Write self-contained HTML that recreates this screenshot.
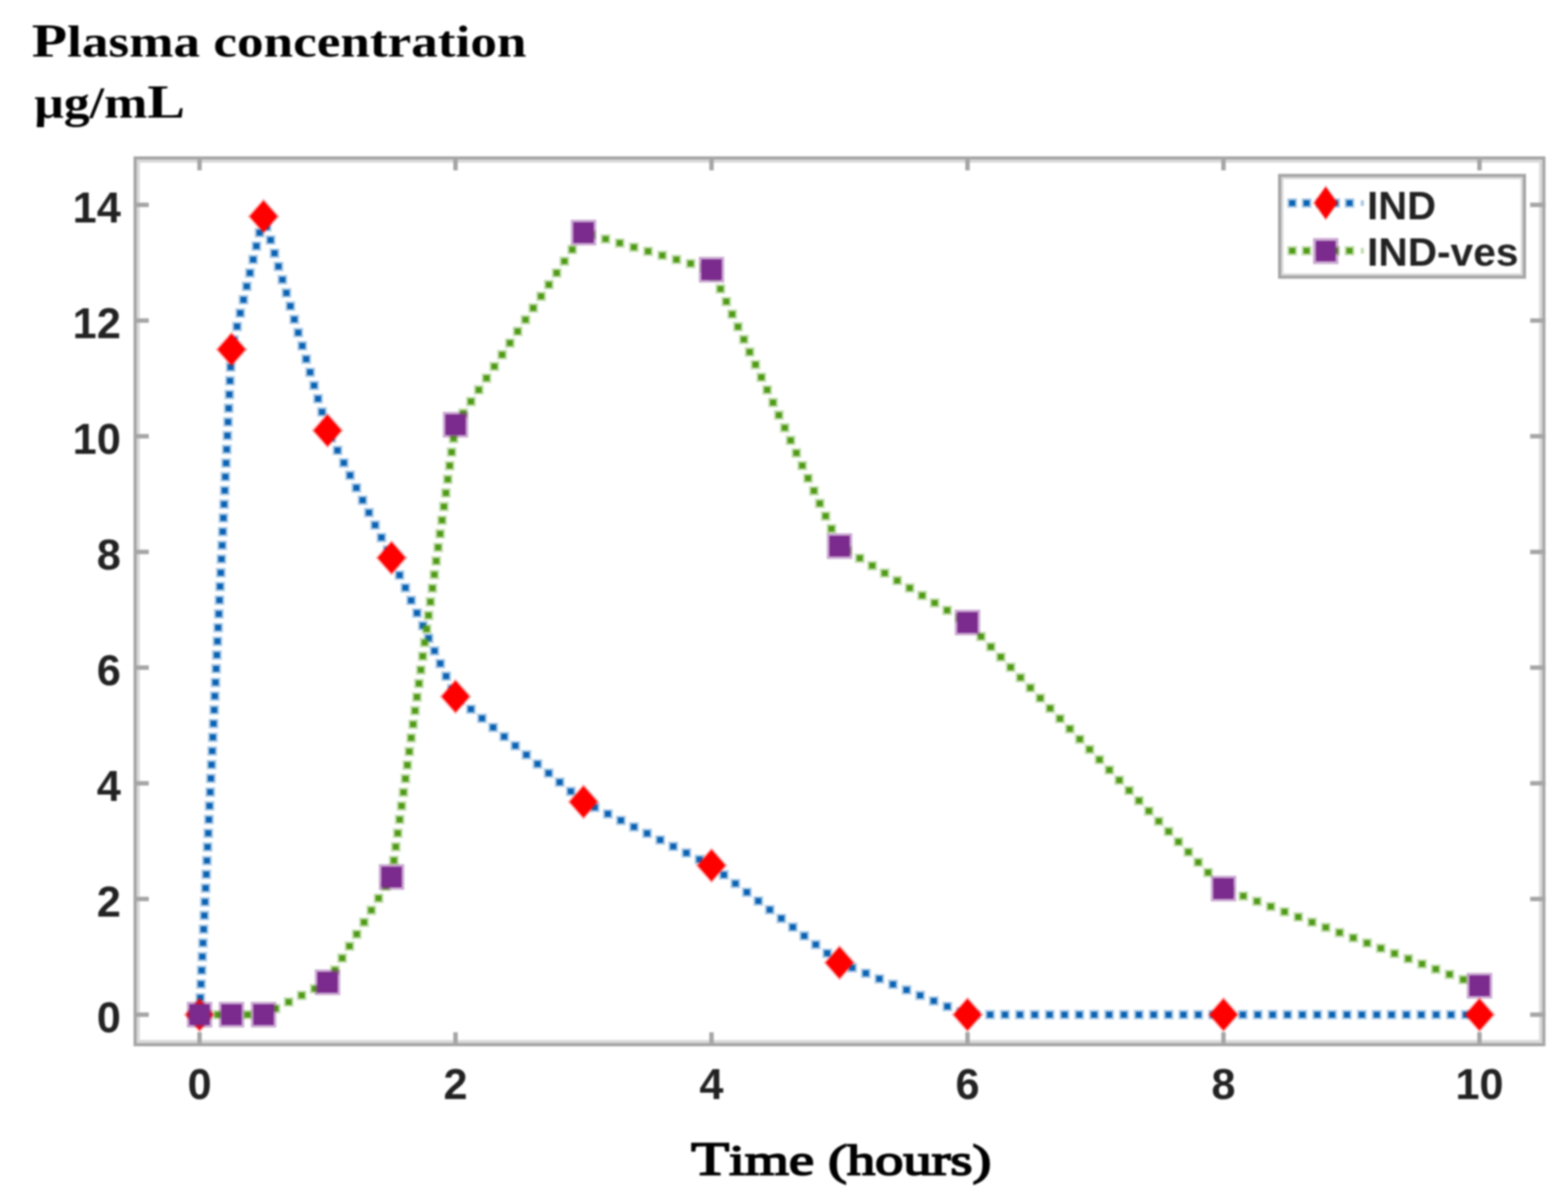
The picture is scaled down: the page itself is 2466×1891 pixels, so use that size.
<!DOCTYPE html>
<html><head><meta charset="utf-8"><title>Plasma concentration chart</title>
<style>html,body{margin:0;padding:0;background:#fff;width:2466px;height:1891px;overflow:hidden}svg{display:block;filter:blur(1.6px)}</style>
</head><body>
<svg width="2466" height="1891" viewBox="0 0 2466 1891">
<rect width="2466" height="1891" fill="#fff"/>
<rect x="217.5" y="253.5" width="2205.5" height="1385" fill="none" stroke="#dadada" stroke-width="5"/>
<rect x="212.5" y="248.5" width="2215.5" height="1395" fill="none" stroke="#a5a5a5" stroke-width="5"/>
<g stroke="#a5a5a5" stroke-width="7">
<line x1="313.8" y1="246" x2="313.8" y2="268"/>
<line x1="313.8" y1="1646" x2="313.8" y2="1624"/>
<line x1="716.4" y1="246" x2="716.4" y2="268"/>
<line x1="716.4" y1="1646" x2="716.4" y2="1624"/>
<line x1="1119.0" y1="246" x2="1119.0" y2="268"/>
<line x1="1119.0" y1="1646" x2="1119.0" y2="1624"/>
<line x1="1521.6" y1="246" x2="1521.6" y2="268"/>
<line x1="1521.6" y1="1646" x2="1521.6" y2="1624"/>
<line x1="1924.2" y1="246" x2="1924.2" y2="268"/>
<line x1="1924.2" y1="1646" x2="1924.2" y2="1624"/>
<line x1="2326.8" y1="246" x2="2326.8" y2="268"/>
<line x1="2326.8" y1="1646" x2="2326.8" y2="1624"/>
<line x1="210" y1="1596.3" x2="234" y2="1596.3"/>
<line x1="2430.5" y1="1596.3" x2="2406.5" y2="1596.3"/>
<line x1="210" y1="1414.3" x2="234" y2="1414.3"/>
<line x1="2430.5" y1="1414.3" x2="2406.5" y2="1414.3"/>
<line x1="210" y1="1232.3" x2="234" y2="1232.3"/>
<line x1="2430.5" y1="1232.3" x2="2406.5" y2="1232.3"/>
<line x1="210" y1="1050.3" x2="234" y2="1050.3"/>
<line x1="2430.5" y1="1050.3" x2="2406.5" y2="1050.3"/>
<line x1="210" y1="868.3" x2="234" y2="868.3"/>
<line x1="2430.5" y1="868.3" x2="2406.5" y2="868.3"/>
<line x1="210" y1="686.3" x2="234" y2="686.3"/>
<line x1="2430.5" y1="686.3" x2="2406.5" y2="686.3"/>
<line x1="210" y1="504.3" x2="234" y2="504.3"/>
<line x1="2430.5" y1="504.3" x2="2406.5" y2="504.3"/>
<line x1="210" y1="322.3" x2="234" y2="322.3"/>
<line x1="2430.5" y1="322.3" x2="2406.5" y2="322.3"/>
</g>
<g style="font-family:'Liberation Sans',Arial,Helvetica,sans-serif;font-weight:bold;font-size:68px" fill="#222222">
<text x="313.8" y="1729" text-anchor="middle">0</text>
<text x="716.4" y="1729" text-anchor="middle">2</text>
<text x="1119.0" y="1729" text-anchor="middle">4</text>
<text x="1521.6" y="1729" text-anchor="middle">6</text>
<text x="1924.2" y="1729" text-anchor="middle">8</text>
<text x="2326.8" y="1729" text-anchor="middle">10</text>
<text x="190" y="1623.8" text-anchor="end">0</text>
<text x="190" y="1441.8" text-anchor="end">2</text>
<text x="190" y="1259.8" text-anchor="end">4</text>
<text x="190" y="1077.8" text-anchor="end">6</text>
<text x="190" y="895.8" text-anchor="end">8</text>
<text x="190" y="713.8" text-anchor="end">10</text>
<text x="190" y="531.8" text-anchor="end">12</text>
<text x="190" y="349.8" text-anchor="end">14</text>
</g>
<text x="1087" y="1848" style="font-family:'Liberation Serif','Times New Roman',serif;font-weight:normal;font-size:75px" fill="#000" stroke="#000" stroke-width="2.6" textLength="472" lengthAdjust="spacingAndGlyphs">T<tspan style="font-size:68px">ime (hours)</tspan></text>
<text x="50" y="89" style="font-family:'Liberation Serif','Times New Roman',serif;font-weight:bold;font-size:75px" fill="#000" textLength="778" lengthAdjust="spacingAndGlyphs">P<tspan style="font-size:69px">lasma concentration</tspan></text>
<text x="54" y="185" style="font-family:'Liberation Serif','Times New Roman',serif;font-weight:bold;font-size:69px" fill="#000" textLength="237" lengthAdjust="spacingAndGlyphs">μg/m<tspan style="font-size:75px">L</tspan></text>
<path d="M306.3 1583.8h15.5v15.0h-15.5zM307.3 1562.2h15.5v15.0h-15.5zM308.4 1540.7h15.5v15.0h-15.5zM309.4 1519.1h15.5v15.0h-15.5zM310.4 1497.5h15.5v15.0h-15.5zM311.5 1476.0h15.5v15.0h-15.5zM312.5 1454.4h15.5v15.0h-15.5zM313.6 1432.8h15.5v15.0h-15.5zM314.6 1411.3h15.5v15.0h-15.5zM315.6 1389.7h15.5v15.0h-15.5zM316.7 1368.1h15.5v15.0h-15.5zM317.7 1346.5h15.5v15.0h-15.5zM318.7 1325.0h15.5v15.0h-15.5zM319.8 1303.4h15.5v15.0h-15.5zM320.8 1281.8h15.5v15.0h-15.5zM321.8 1260.3h15.5v15.0h-15.5zM322.9 1238.7h15.5v15.0h-15.5zM323.9 1217.1h15.5v15.0h-15.5zM325.0 1195.6h15.5v15.0h-15.5zM326.0 1174.0h15.5v15.0h-15.5zM327.0 1152.4h15.5v15.0h-15.5zM328.1 1130.9h15.5v15.0h-15.5zM329.1 1109.3h15.5v15.0h-15.5zM330.1 1087.7h15.5v15.0h-15.5zM331.2 1066.2h15.5v15.0h-15.5zM332.2 1044.6h15.5v15.0h-15.5zM333.3 1023.0h15.5v15.0h-15.5zM334.3 1001.4h15.5v15.0h-15.5zM335.3 979.9h15.5v15.0h-15.5zM336.4 958.3h15.5v15.0h-15.5zM337.4 936.7h15.5v15.0h-15.5zM338.4 915.2h15.5v15.0h-15.5zM339.5 893.6h15.5v15.0h-15.5zM340.5 872.0h15.5v15.0h-15.5zM341.6 850.5h15.5v15.0h-15.5zM342.6 828.9h15.5v15.0h-15.5zM343.6 807.3h15.5v15.0h-15.5zM344.7 785.8h15.5v15.0h-15.5zM345.7 764.2h15.5v15.0h-15.5zM346.7 742.6h15.5v15.0h-15.5zM347.8 721.1h15.5v15.0h-15.5zM348.8 699.5h15.5v15.0h-15.5zM349.9 677.9h15.5v15.0h-15.5zM350.9 656.3h15.5v15.0h-15.5zM351.9 634.8h15.5v15.0h-15.5zM353.0 613.2h15.5v15.0h-15.5zM354.0 591.6h15.5v15.0h-15.5zM355.0 570.1h15.5v15.0h-15.5zM356.1 548.5h15.5v15.0h-15.5zM360.0 527.3h15.5v15.0h-15.5zM365.1 506.2h15.5v15.0h-15.5zM370.1 485.1h15.5v15.0h-15.5zM375.2 464.1h15.5v15.0h-15.5zM380.3 443.0h15.5v15.0h-15.5zM385.3 421.9h15.5v15.0h-15.5zM390.4 400.8h15.5v15.0h-15.5zM395.5 379.7h15.5v15.0h-15.5zM400.5 358.7h15.5v15.0h-15.5zM405.6 337.6h15.5v15.0h-15.5zM411.6 349.3h15.5v15.0h-15.5zM417.8 370.1h15.5v15.0h-15.5zM424.0 390.9h15.5v15.0h-15.5zM430.2 411.7h15.5v15.0h-15.5zM436.4 432.5h15.5v15.0h-15.5zM442.7 453.3h15.5v15.0h-15.5zM448.9 474.1h15.5v15.0h-15.5zM455.1 495.0h15.5v15.0h-15.5zM461.3 515.8h15.5v15.0h-15.5zM467.6 536.6h15.5v15.0h-15.5zM473.8 557.4h15.5v15.0h-15.5zM480.0 578.2h15.5v15.0h-15.5zM486.2 599.0h15.5v15.0h-15.5zM492.4 619.8h15.5v15.0h-15.5zM498.7 640.6h15.5v15.0h-15.5zM504.9 661.5h15.5v15.0h-15.5zM513.3 681.5h15.5v15.0h-15.5zM523.1 701.1h15.5v15.0h-15.5zM533.0 720.7h15.5v15.0h-15.5zM542.8 740.3h15.5v15.0h-15.5zM552.7 759.9h15.5v15.0h-15.5zM562.5 779.4h15.5v15.0h-15.5zM572.4 799.0h15.5v15.0h-15.5zM582.2 818.6h15.5v15.0h-15.5zM592.1 838.2h15.5v15.0h-15.5zM601.9 857.8h15.5v15.0h-15.5zM611.5 877.5h15.5v15.0h-15.5zM620.6 897.3h15.5v15.0h-15.5zM629.8 917.2h15.5v15.0h-15.5zM638.9 937.1h15.5v15.0h-15.5zM648.1 956.9h15.5v15.0h-15.5zM657.3 976.8h15.5v15.0h-15.5zM666.4 996.7h15.5v15.0h-15.5zM675.6 1016.5h15.5v15.0h-15.5zM684.7 1036.4h15.5v15.0h-15.5zM693.9 1056.3h15.5v15.0h-15.5zM703.0 1076.1h15.5v15.0h-15.5zM715.4 1093.9h15.5v15.0h-15.5zM732.9 1108.2h15.5v15.0h-15.5zM750.3 1122.6h15.5v15.0h-15.5zM767.8 1136.9h15.5v15.0h-15.5zM785.2 1151.3h15.5v15.0h-15.5zM802.7 1165.7h15.5v15.0h-15.5zM820.1 1180.0h15.5v15.0h-15.5zM837.6 1194.4h15.5v15.0h-15.5zM855.1 1208.8h15.5v15.0h-15.5zM872.5 1223.1h15.5v15.0h-15.5zM890.0 1237.5h15.5v15.0h-15.5zM907.4 1251.8h15.5v15.0h-15.5zM927.6 1262.7h15.5v15.0h-15.5zM948.2 1272.9h15.5v15.0h-15.5zM968.7 1283.2h15.5v15.0h-15.5zM989.3 1293.4h15.5v15.0h-15.5zM1009.9 1303.6h15.5v15.0h-15.5zM1030.5 1313.9h15.5v15.0h-15.5zM1051.1 1324.1h15.5v15.0h-15.5zM1071.7 1334.3h15.5v15.0h-15.5zM1092.3 1344.6h15.5v15.0h-15.5zM1112.6 1355.1h15.5v15.0h-15.5zM1130.7 1368.8h15.5v15.0h-15.5zM1148.8 1382.5h15.5v15.0h-15.5zM1166.8 1396.2h15.5v15.0h-15.5zM1184.9 1409.9h15.5v15.0h-15.5zM1202.9 1423.7h15.5v15.0h-15.5zM1221.0 1437.4h15.5v15.0h-15.5zM1239.1 1451.1h15.5v15.0h-15.5zM1257.1 1464.8h15.5v15.0h-15.5zM1275.2 1478.5h15.5v15.0h-15.5zM1293.2 1492.2h15.5v15.0h-15.5zM1311.3 1505.9h15.5v15.0h-15.5zM1332.5 1515.0h15.5v15.0h-15.5zM1353.9 1523.7h15.5v15.0h-15.5zM1375.2 1532.4h15.5v15.0h-15.5zM1396.6 1541.1h15.5v15.0h-15.5zM1418.0 1549.8h15.5v15.0h-15.5zM1439.4 1558.5h15.5v15.0h-15.5zM1460.8 1567.2h15.5v15.0h-15.5zM1482.2 1575.9h15.5v15.0h-15.5zM1503.6 1584.6h15.5v15.0h-15.5zM1526.1 1588.8h15.5v15.0h-15.5zM1549.4 1588.8h15.5v15.0h-15.5zM1572.8 1588.8h15.5v15.0h-15.5zM1596.2 1588.8h15.5v15.0h-15.5zM1619.6 1588.8h15.5v15.0h-15.5zM1643.0 1588.8h15.5v15.0h-15.5zM1666.4 1588.8h15.5v15.0h-15.5zM1689.7 1588.8h15.5v15.0h-15.5zM1713.1 1588.8h15.5v15.0h-15.5zM1736.5 1588.8h15.5v15.0h-15.5zM1759.9 1588.8h15.5v15.0h-15.5zM1783.3 1588.8h15.5v15.0h-15.5zM1806.6 1588.8h15.5v15.0h-15.5zM1830.0 1588.8h15.5v15.0h-15.5zM1853.4 1588.8h15.5v15.0h-15.5zM1876.8 1588.8h15.5v15.0h-15.5zM1900.2 1588.8h15.5v15.0h-15.5zM1923.6 1588.8h15.5v15.0h-15.5zM1946.9 1588.8h15.5v15.0h-15.5zM1970.3 1588.8h15.5v15.0h-15.5zM1993.7 1588.8h15.5v15.0h-15.5zM2017.1 1588.8h15.5v15.0h-15.5zM2040.5 1588.8h15.5v15.0h-15.5zM2063.9 1588.8h15.5v15.0h-15.5zM2087.2 1588.8h15.5v15.0h-15.5zM2110.6 1588.8h15.5v15.0h-15.5zM2134.0 1588.8h15.5v15.0h-15.5zM2157.4 1588.8h15.5v15.0h-15.5zM2180.8 1588.8h15.5v15.0h-15.5zM2204.1 1588.8h15.5v15.0h-15.5zM2227.5 1588.8h15.5v15.0h-15.5zM2250.9 1588.8h15.5v15.0h-15.5zM2274.3 1588.8h15.5v15.0h-15.5zM2297.7 1588.8h15.5v15.0h-15.5z" fill="#0a62b3" opacity="0.33"/><path d="M309.3 1586.7h9.5v9.2h-9.5zM310.3 1565.1h9.5v9.2h-9.5zM311.4 1543.6h9.5v9.2h-9.5zM312.4 1522.0h9.5v9.2h-9.5zM313.4 1500.4h9.5v9.2h-9.5zM314.5 1478.9h9.5v9.2h-9.5zM315.5 1457.3h9.5v9.2h-9.5zM316.6 1435.7h9.5v9.2h-9.5zM317.6 1414.2h9.5v9.2h-9.5zM318.6 1392.6h9.5v9.2h-9.5zM319.7 1371.0h9.5v9.2h-9.5zM320.7 1349.4h9.5v9.2h-9.5zM321.7 1327.9h9.5v9.2h-9.5zM322.8 1306.3h9.5v9.2h-9.5zM323.8 1284.7h9.5v9.2h-9.5zM324.8 1263.2h9.5v9.2h-9.5zM325.9 1241.6h9.5v9.2h-9.5zM326.9 1220.0h9.5v9.2h-9.5zM328.0 1198.5h9.5v9.2h-9.5zM329.0 1176.9h9.5v9.2h-9.5zM330.0 1155.3h9.5v9.2h-9.5zM331.1 1133.8h9.5v9.2h-9.5zM332.1 1112.2h9.5v9.2h-9.5zM333.1 1090.6h9.5v9.2h-9.5zM334.2 1069.1h9.5v9.2h-9.5zM335.2 1047.5h9.5v9.2h-9.5zM336.3 1025.9h9.5v9.2h-9.5zM337.3 1004.3h9.5v9.2h-9.5zM338.3 982.8h9.5v9.2h-9.5zM339.4 961.2h9.5v9.2h-9.5zM340.4 939.6h9.5v9.2h-9.5zM341.4 918.1h9.5v9.2h-9.5zM342.5 896.5h9.5v9.2h-9.5zM343.5 874.9h9.5v9.2h-9.5zM344.6 853.4h9.5v9.2h-9.5zM345.6 831.8h9.5v9.2h-9.5zM346.6 810.2h9.5v9.2h-9.5zM347.7 788.7h9.5v9.2h-9.5zM348.7 767.1h9.5v9.2h-9.5zM349.7 745.5h9.5v9.2h-9.5zM350.8 724.0h9.5v9.2h-9.5zM351.8 702.4h9.5v9.2h-9.5zM352.9 680.8h9.5v9.2h-9.5zM353.9 659.2h9.5v9.2h-9.5zM354.9 637.7h9.5v9.2h-9.5zM356.0 616.1h9.5v9.2h-9.5zM357.0 594.5h9.5v9.2h-9.5zM358.0 573.0h9.5v9.2h-9.5zM359.1 551.4h9.5v9.2h-9.5zM363.0 530.2h9.5v9.2h-9.5zM368.1 509.1h9.5v9.2h-9.5zM373.1 488.0h9.5v9.2h-9.5zM378.2 467.0h9.5v9.2h-9.5zM383.3 445.9h9.5v9.2h-9.5zM388.3 424.8h9.5v9.2h-9.5zM393.4 403.7h9.5v9.2h-9.5zM398.5 382.6h9.5v9.2h-9.5zM403.5 361.6h9.5v9.2h-9.5zM408.6 340.5h9.5v9.2h-9.5zM414.6 352.2h9.5v9.2h-9.5zM420.8 373.0h9.5v9.2h-9.5zM427.0 393.8h9.5v9.2h-9.5zM433.2 414.6h9.5v9.2h-9.5zM439.4 435.4h9.5v9.2h-9.5zM445.7 456.2h9.5v9.2h-9.5zM451.9 477.0h9.5v9.2h-9.5zM458.1 497.9h9.5v9.2h-9.5zM464.3 518.7h9.5v9.2h-9.5zM470.6 539.5h9.5v9.2h-9.5zM476.8 560.3h9.5v9.2h-9.5zM483.0 581.1h9.5v9.2h-9.5zM489.2 601.9h9.5v9.2h-9.5zM495.4 622.7h9.5v9.2h-9.5zM501.7 643.5h9.5v9.2h-9.5zM507.9 664.4h9.5v9.2h-9.5zM516.3 684.4h9.5v9.2h-9.5zM526.1 704.0h9.5v9.2h-9.5zM536.0 723.6h9.5v9.2h-9.5zM545.8 743.2h9.5v9.2h-9.5zM555.7 762.8h9.5v9.2h-9.5zM565.5 782.3h9.5v9.2h-9.5zM575.4 801.9h9.5v9.2h-9.5zM585.2 821.5h9.5v9.2h-9.5zM595.1 841.1h9.5v9.2h-9.5zM604.9 860.7h9.5v9.2h-9.5zM614.5 880.4h9.5v9.2h-9.5zM623.6 900.2h9.5v9.2h-9.5zM632.8 920.1h9.5v9.2h-9.5zM641.9 940.0h9.5v9.2h-9.5zM651.1 959.8h9.5v9.2h-9.5zM660.3 979.7h9.5v9.2h-9.5zM669.4 999.6h9.5v9.2h-9.5zM678.6 1019.4h9.5v9.2h-9.5zM687.7 1039.3h9.5v9.2h-9.5zM696.9 1059.2h9.5v9.2h-9.5zM706.0 1079.0h9.5v9.2h-9.5zM718.4 1096.8h9.5v9.2h-9.5zM735.9 1111.1h9.5v9.2h-9.5zM753.3 1125.5h9.5v9.2h-9.5zM770.8 1139.8h9.5v9.2h-9.5zM788.2 1154.2h9.5v9.2h-9.5zM805.7 1168.6h9.5v9.2h-9.5zM823.1 1182.9h9.5v9.2h-9.5zM840.6 1197.3h9.5v9.2h-9.5zM858.1 1211.7h9.5v9.2h-9.5zM875.5 1226.0h9.5v9.2h-9.5zM893.0 1240.4h9.5v9.2h-9.5zM910.4 1254.7h9.5v9.2h-9.5zM930.6 1265.6h9.5v9.2h-9.5zM951.2 1275.8h9.5v9.2h-9.5zM971.7 1286.1h9.5v9.2h-9.5zM992.3 1296.3h9.5v9.2h-9.5zM1012.9 1306.5h9.5v9.2h-9.5zM1033.5 1316.8h9.5v9.2h-9.5zM1054.1 1327.0h9.5v9.2h-9.5zM1074.7 1337.2h9.5v9.2h-9.5zM1095.3 1347.5h9.5v9.2h-9.5zM1115.6 1358.0h9.5v9.2h-9.5zM1133.7 1371.7h9.5v9.2h-9.5zM1151.8 1385.4h9.5v9.2h-9.5zM1169.8 1399.1h9.5v9.2h-9.5zM1187.9 1412.8h9.5v9.2h-9.5zM1205.9 1426.6h9.5v9.2h-9.5zM1224.0 1440.3h9.5v9.2h-9.5zM1242.1 1454.0h9.5v9.2h-9.5zM1260.1 1467.7h9.5v9.2h-9.5zM1278.2 1481.4h9.5v9.2h-9.5zM1296.2 1495.1h9.5v9.2h-9.5zM1314.3 1508.8h9.5v9.2h-9.5zM1335.5 1517.9h9.5v9.2h-9.5zM1356.9 1526.6h9.5v9.2h-9.5zM1378.2 1535.3h9.5v9.2h-9.5zM1399.6 1544.0h9.5v9.2h-9.5zM1421.0 1552.7h9.5v9.2h-9.5zM1442.4 1561.4h9.5v9.2h-9.5zM1463.8 1570.1h9.5v9.2h-9.5zM1485.2 1578.8h9.5v9.2h-9.5zM1506.6 1587.5h9.5v9.2h-9.5zM1529.1 1591.7h9.5v9.2h-9.5zM1552.4 1591.7h9.5v9.2h-9.5zM1575.8 1591.7h9.5v9.2h-9.5zM1599.2 1591.7h9.5v9.2h-9.5zM1622.6 1591.7h9.5v9.2h-9.5zM1646.0 1591.7h9.5v9.2h-9.5zM1669.4 1591.7h9.5v9.2h-9.5zM1692.7 1591.7h9.5v9.2h-9.5zM1716.1 1591.7h9.5v9.2h-9.5zM1739.5 1591.7h9.5v9.2h-9.5zM1762.9 1591.7h9.5v9.2h-9.5zM1786.3 1591.7h9.5v9.2h-9.5zM1809.6 1591.7h9.5v9.2h-9.5zM1833.0 1591.7h9.5v9.2h-9.5zM1856.4 1591.7h9.5v9.2h-9.5zM1879.8 1591.7h9.5v9.2h-9.5zM1903.2 1591.7h9.5v9.2h-9.5zM1926.6 1591.7h9.5v9.2h-9.5zM1949.9 1591.7h9.5v9.2h-9.5zM1973.3 1591.7h9.5v9.2h-9.5zM1996.7 1591.7h9.5v9.2h-9.5zM2020.1 1591.7h9.5v9.2h-9.5zM2043.5 1591.7h9.5v9.2h-9.5zM2066.9 1591.7h9.5v9.2h-9.5zM2090.2 1591.7h9.5v9.2h-9.5zM2113.6 1591.7h9.5v9.2h-9.5zM2137.0 1591.7h9.5v9.2h-9.5zM2160.4 1591.7h9.5v9.2h-9.5zM2183.8 1591.7h9.5v9.2h-9.5zM2207.1 1591.7h9.5v9.2h-9.5zM2230.5 1591.7h9.5v9.2h-9.5zM2253.9 1591.7h9.5v9.2h-9.5zM2277.3 1591.7h9.5v9.2h-9.5zM2300.7 1591.7h9.5v9.2h-9.5z" fill="#0a62b3"/>
<g><path d="M313.8,1568.3 L338.8,1596.3 L313.8,1624.3 L288.8,1596.3 Z" fill="#ff0000" opacity="0.35"/><path d="M313.8,1571.8 L335.3,1596.3 L313.8,1620.8 L292.3,1596.3 Z" fill="#ff0000"/><path d="M364.1,521.8 L389.1,549.8 L364.1,577.8 L339.1,549.8 Z" fill="#ff0000" opacity="0.35"/><path d="M364.1,525.3 L385.6,549.8 L364.1,574.3 L342.6,549.8 Z" fill="#ff0000"/><path d="M414.5,312.5 L439.5,340.5 L414.5,368.5 L389.5,340.5 Z" fill="#ff0000" opacity="0.35"/><path d="M414.5,316.0 L436.0,340.5 L414.5,365.0 L393.0,340.5 Z" fill="#ff0000"/><path d="M515.1,649.2 L540.1,677.2 L515.1,705.2 L490.1,677.2 Z" fill="#ff0000" opacity="0.35"/><path d="M515.1,652.7 L536.6,677.2 L515.1,701.7 L493.6,677.2 Z" fill="#ff0000"/><path d="M615.8,849.4 L640.8,877.4 L615.8,905.4 L590.8,877.4 Z" fill="#ff0000" opacity="0.35"/><path d="M615.8,852.9 L637.2,877.4 L615.8,901.9 L594.2,877.4 Z" fill="#ff0000"/><path d="M716.4,1067.8 L741.4,1095.8 L716.4,1123.8 L691.4,1095.8 Z" fill="#ff0000" opacity="0.35"/><path d="M716.4,1071.3 L737.9,1095.8 L716.4,1120.3 L694.9,1095.8 Z" fill="#ff0000"/><path d="M917.7,1233.4 L942.7,1261.4 L917.7,1289.4 L892.7,1261.4 Z" fill="#ff0000" opacity="0.35"/><path d="M917.7,1236.9 L939.2,1261.4 L917.7,1285.9 L896.2,1261.4 Z" fill="#ff0000"/><path d="M1119.0,1333.5 L1144.0,1361.5 L1119.0,1389.5 L1094.0,1361.5 Z" fill="#ff0000" opacity="0.35"/><path d="M1119.0,1337.0 L1140.5,1361.5 L1119.0,1386.0 L1097.5,1361.5 Z" fill="#ff0000"/><path d="M1320.3,1486.4 L1345.3,1514.4 L1320.3,1542.4 L1295.3,1514.4 Z" fill="#ff0000" opacity="0.35"/><path d="M1320.3,1489.9 L1341.8,1514.4 L1320.3,1538.9 L1298.8,1514.4 Z" fill="#ff0000"/><path d="M1521.6,1568.3 L1546.6,1596.3 L1521.6,1624.3 L1496.6,1596.3 Z" fill="#ff0000" opacity="0.35"/><path d="M1521.6,1571.8 L1543.1,1596.3 L1521.6,1620.8 L1500.1,1596.3 Z" fill="#ff0000"/><path d="M1924.2,1568.3 L1949.2,1596.3 L1924.2,1624.3 L1899.2,1596.3 Z" fill="#ff0000" opacity="0.35"/><path d="M1924.2,1571.8 L1945.7,1596.3 L1924.2,1620.8 L1902.7,1596.3 Z" fill="#ff0000"/><path d="M2326.8,1568.3 L2351.8,1596.3 L2326.8,1624.3 L2301.8,1596.3 Z" fill="#ff0000" opacity="0.35"/><path d="M2326.8,1571.8 L2348.3,1596.3 L2326.8,1620.8 L2305.3,1596.3 Z" fill="#ff0000"/></g>
<path d="M311.5 1588.8h15.5v15.0h-15.5zM334.8 1588.8h15.5v15.0h-15.5zM358.2 1588.8h15.5v15.0h-15.5zM381.6 1588.8h15.5v15.0h-15.5zM405.0 1588.8h15.5v15.0h-15.5zM425.7 1579.2h15.5v15.0h-15.5zM446.2 1568.8h15.5v15.0h-15.5zM466.7 1558.4h15.5v15.0h-15.5zM487.2 1548.0h15.5v15.0h-15.5zM507.6 1537.5h15.5v15.0h-15.5zM519.0 1518.7h15.5v15.0h-15.5zM530.4 1499.8h15.5v15.0h-15.5zM541.9 1481.0h15.5v15.0h-15.5zM553.3 1462.2h15.5v15.0h-15.5zM564.8 1443.4h15.5v15.0h-15.5zM576.2 1424.5h15.5v15.0h-15.5zM587.6 1405.7h15.5v15.0h-15.5zM599.1 1386.9h15.5v15.0h-15.5zM608.7 1367.5h15.5v15.0h-15.5zM611.7 1346.1h15.5v15.0h-15.5zM614.7 1324.7h15.5v15.0h-15.5zM617.8 1303.3h15.5v15.0h-15.5zM620.8 1281.8h15.5v15.0h-15.5zM623.8 1260.4h15.5v15.0h-15.5zM626.8 1239.0h15.5v15.0h-15.5zM629.9 1217.6h15.5v15.0h-15.5zM632.9 1196.2h15.5v15.0h-15.5zM635.9 1174.8h15.5v15.0h-15.5zM638.9 1153.4h15.5v15.0h-15.5zM642.0 1132.0h15.5v15.0h-15.5zM645.0 1110.6h15.5v15.0h-15.5zM648.0 1089.2h15.5v15.0h-15.5zM651.1 1067.8h15.5v15.0h-15.5zM654.1 1046.4h15.5v15.0h-15.5zM657.1 1024.9h15.5v15.0h-15.5zM660.1 1003.5h15.5v15.0h-15.5zM663.2 982.1h15.5v15.0h-15.5zM666.2 960.7h15.5v15.0h-15.5zM669.2 939.3h15.5v15.0h-15.5zM672.3 917.9h15.5v15.0h-15.5zM675.3 896.5h15.5v15.0h-15.5zM678.3 875.1h15.5v15.0h-15.5zM681.3 853.7h15.5v15.0h-15.5zM684.4 832.3h15.5v15.0h-15.5zM687.4 810.9h15.5v15.0h-15.5zM690.4 789.5h15.5v15.0h-15.5zM693.5 768.1h15.5v15.0h-15.5zM696.5 746.6h15.5v15.0h-15.5zM699.5 725.2h15.5v15.0h-15.5zM702.5 703.8h15.5v15.0h-15.5zM705.6 682.4h15.5v15.0h-15.5zM708.6 661.0h15.5v15.0h-15.5zM720.7 642.6h15.5v15.0h-15.5zM732.9 624.2h15.5v15.0h-15.5zM745.2 605.8h15.5v15.0h-15.5zM757.4 587.4h15.5v15.0h-15.5zM769.7 569.0h15.5v15.0h-15.5zM781.9 550.6h15.5v15.0h-15.5zM794.2 532.2h15.5v15.0h-15.5zM806.4 513.8h15.5v15.0h-15.5zM818.7 495.5h15.5v15.0h-15.5zM830.9 477.1h15.5v15.0h-15.5zM843.2 458.7h15.5v15.0h-15.5zM855.4 440.3h15.5v15.0h-15.5zM867.7 421.9h15.5v15.0h-15.5zM879.9 403.5h15.5v15.0h-15.5zM892.2 385.1h15.5v15.0h-15.5zM904.4 366.7h15.5v15.0h-15.5zM922.2 362.0h15.5v15.0h-15.5zM944.6 368.5h15.5v15.0h-15.5zM966.9 374.9h15.5v15.0h-15.5zM989.2 381.4h15.5v15.0h-15.5zM1011.5 387.9h15.5v15.0h-15.5zM1033.8 394.3h15.5v15.0h-15.5zM1056.1 400.8h15.5v15.0h-15.5zM1078.4 407.2h15.5v15.0h-15.5zM1100.7 413.7h15.5v15.0h-15.5zM1116.1 427.2h15.5v15.0h-15.5zM1125.3 447.1h15.5v15.0h-15.5zM1134.5 466.9h15.5v15.0h-15.5zM1143.7 486.8h15.5v15.0h-15.5zM1152.9 506.6h15.5v15.0h-15.5zM1162.1 526.5h15.5v15.0h-15.5zM1171.2 546.3h15.5v15.0h-15.5zM1180.4 566.2h15.5v15.0h-15.5zM1189.6 586.1h15.5v15.0h-15.5zM1198.8 605.9h15.5v15.0h-15.5zM1208.0 625.8h15.5v15.0h-15.5zM1217.2 645.6h15.5v15.0h-15.5zM1226.4 665.5h15.5v15.0h-15.5zM1235.6 685.3h15.5v15.0h-15.5zM1244.7 705.2h15.5v15.0h-15.5zM1253.9 725.0h15.5v15.0h-15.5zM1263.1 744.9h15.5v15.0h-15.5zM1272.3 764.7h15.5v15.0h-15.5zM1281.5 784.6h15.5v15.0h-15.5zM1290.7 804.4h15.5v15.0h-15.5zM1299.9 824.3h15.5v15.0h-15.5zM1309.1 844.1h15.5v15.0h-15.5zM1324.7 859.0h15.5v15.0h-15.5zM1344.4 870.7h15.5v15.0h-15.5zM1364.0 882.4h15.5v15.0h-15.5zM1383.6 894.1h15.5v15.0h-15.5zM1403.3 905.8h15.5v15.0h-15.5zM1422.9 917.6h15.5v15.0h-15.5zM1442.5 929.3h15.5v15.0h-15.5zM1462.2 941.0h15.5v15.0h-15.5zM1481.8 952.7h15.5v15.0h-15.5zM1501.5 964.4h15.5v15.0h-15.5zM1519.6 977.8h15.5v15.0h-15.5zM1535.1 993.9h15.5v15.0h-15.5zM1550.6 1010.1h15.5v15.0h-15.5zM1566.2 1026.2h15.5v15.0h-15.5zM1581.7 1042.3h15.5v15.0h-15.5zM1597.2 1058.5h15.5v15.0h-15.5zM1612.7 1074.6h15.5v15.0h-15.5zM1628.3 1090.8h15.5v15.0h-15.5zM1643.8 1106.9h15.5v15.0h-15.5zM1659.3 1123.1h15.5v15.0h-15.5zM1674.8 1139.2h15.5v15.0h-15.5zM1690.4 1155.4h15.5v15.0h-15.5zM1705.9 1171.5h15.5v15.0h-15.5zM1721.4 1187.6h15.5v15.0h-15.5zM1736.9 1203.8h15.5v15.0h-15.5zM1752.5 1219.9h15.5v15.0h-15.5zM1768.0 1236.1h15.5v15.0h-15.5zM1783.5 1252.2h15.5v15.0h-15.5zM1799.0 1268.4h15.5v15.0h-15.5zM1814.6 1284.5h15.5v15.0h-15.5zM1830.1 1300.6h15.5v15.0h-15.5zM1845.6 1316.8h15.5v15.0h-15.5zM1861.2 1332.9h15.5v15.0h-15.5zM1876.7 1349.1h15.5v15.0h-15.5zM1892.2 1365.2h15.5v15.0h-15.5zM1907.7 1381.4h15.5v15.0h-15.5zM1925.9 1394.0h15.5v15.0h-15.5zM1947.6 1402.2h15.5v15.0h-15.5zM1969.2 1410.4h15.5v15.0h-15.5zM1990.8 1418.7h15.5v15.0h-15.5zM2012.4 1426.9h15.5v15.0h-15.5zM2034.1 1435.1h15.5v15.0h-15.5zM2055.7 1443.3h15.5v15.0h-15.5zM2077.3 1451.5h15.5v15.0h-15.5zM2098.9 1459.7h15.5v15.0h-15.5zM2120.6 1467.9h15.5v15.0h-15.5zM2142.2 1476.1h15.5v15.0h-15.5zM2163.8 1484.3h15.5v15.0h-15.5zM2185.4 1492.6h15.5v15.0h-15.5zM2207.1 1500.8h15.5v15.0h-15.5zM2228.7 1509.0h15.5v15.0h-15.5zM2250.3 1517.2h15.5v15.0h-15.5zM2271.9 1525.4h15.5v15.0h-15.5zM2293.6 1533.6h15.5v15.0h-15.5zM2315.2 1541.8h15.5v15.0h-15.5z" fill="#4f9a16" opacity="0.33"/><path d="M314.5 1591.7h9.5v9.2h-9.5zM337.8 1591.7h9.5v9.2h-9.5zM361.2 1591.7h9.5v9.2h-9.5zM384.6 1591.7h9.5v9.2h-9.5zM408.0 1591.7h9.5v9.2h-9.5zM428.7 1582.1h9.5v9.2h-9.5zM449.2 1571.7h9.5v9.2h-9.5zM469.7 1561.3h9.5v9.2h-9.5zM490.2 1550.9h9.5v9.2h-9.5zM510.6 1540.4h9.5v9.2h-9.5zM522.0 1521.6h9.5v9.2h-9.5zM533.4 1502.7h9.5v9.2h-9.5zM544.9 1483.9h9.5v9.2h-9.5zM556.3 1465.1h9.5v9.2h-9.5zM567.8 1446.3h9.5v9.2h-9.5zM579.2 1427.4h9.5v9.2h-9.5zM590.6 1408.6h9.5v9.2h-9.5zM602.1 1389.8h9.5v9.2h-9.5zM611.7 1370.4h9.5v9.2h-9.5zM614.7 1349.0h9.5v9.2h-9.5zM617.7 1327.6h9.5v9.2h-9.5zM620.8 1306.2h9.5v9.2h-9.5zM623.8 1284.7h9.5v9.2h-9.5zM626.8 1263.3h9.5v9.2h-9.5zM629.8 1241.9h9.5v9.2h-9.5zM632.9 1220.5h9.5v9.2h-9.5zM635.9 1199.1h9.5v9.2h-9.5zM638.9 1177.7h9.5v9.2h-9.5zM641.9 1156.3h9.5v9.2h-9.5zM645.0 1134.9h9.5v9.2h-9.5zM648.0 1113.5h9.5v9.2h-9.5zM651.0 1092.1h9.5v9.2h-9.5zM654.1 1070.7h9.5v9.2h-9.5zM657.1 1049.3h9.5v9.2h-9.5zM660.1 1027.8h9.5v9.2h-9.5zM663.1 1006.4h9.5v9.2h-9.5zM666.2 985.0h9.5v9.2h-9.5zM669.2 963.6h9.5v9.2h-9.5zM672.2 942.2h9.5v9.2h-9.5zM675.3 920.8h9.5v9.2h-9.5zM678.3 899.4h9.5v9.2h-9.5zM681.3 878.0h9.5v9.2h-9.5zM684.3 856.6h9.5v9.2h-9.5zM687.4 835.2h9.5v9.2h-9.5zM690.4 813.8h9.5v9.2h-9.5zM693.4 792.4h9.5v9.2h-9.5zM696.5 771.0h9.5v9.2h-9.5zM699.5 749.5h9.5v9.2h-9.5zM702.5 728.1h9.5v9.2h-9.5zM705.5 706.7h9.5v9.2h-9.5zM708.6 685.3h9.5v9.2h-9.5zM711.6 663.9h9.5v9.2h-9.5zM723.7 645.5h9.5v9.2h-9.5zM735.9 627.1h9.5v9.2h-9.5zM748.2 608.7h9.5v9.2h-9.5zM760.4 590.3h9.5v9.2h-9.5zM772.7 571.9h9.5v9.2h-9.5zM784.9 553.5h9.5v9.2h-9.5zM797.2 535.1h9.5v9.2h-9.5zM809.4 516.7h9.5v9.2h-9.5zM821.7 498.4h9.5v9.2h-9.5zM833.9 480.0h9.5v9.2h-9.5zM846.2 461.6h9.5v9.2h-9.5zM858.4 443.2h9.5v9.2h-9.5zM870.7 424.8h9.5v9.2h-9.5zM882.9 406.4h9.5v9.2h-9.5zM895.2 388.0h9.5v9.2h-9.5zM907.4 369.6h9.5v9.2h-9.5zM925.2 364.9h9.5v9.2h-9.5zM947.6 371.4h9.5v9.2h-9.5zM969.9 377.8h9.5v9.2h-9.5zM992.2 384.3h9.5v9.2h-9.5zM1014.5 390.8h9.5v9.2h-9.5zM1036.8 397.2h9.5v9.2h-9.5zM1059.1 403.7h9.5v9.2h-9.5zM1081.4 410.1h9.5v9.2h-9.5zM1103.7 416.6h9.5v9.2h-9.5zM1119.1 430.1h9.5v9.2h-9.5zM1128.3 450.0h9.5v9.2h-9.5zM1137.5 469.8h9.5v9.2h-9.5zM1146.7 489.7h9.5v9.2h-9.5zM1155.9 509.5h9.5v9.2h-9.5zM1165.1 529.4h9.5v9.2h-9.5zM1174.2 549.2h9.5v9.2h-9.5zM1183.4 569.1h9.5v9.2h-9.5zM1192.6 589.0h9.5v9.2h-9.5zM1201.8 608.8h9.5v9.2h-9.5zM1211.0 628.7h9.5v9.2h-9.5zM1220.2 648.5h9.5v9.2h-9.5zM1229.4 668.4h9.5v9.2h-9.5zM1238.6 688.2h9.5v9.2h-9.5zM1247.7 708.1h9.5v9.2h-9.5zM1256.9 727.9h9.5v9.2h-9.5zM1266.1 747.8h9.5v9.2h-9.5zM1275.3 767.6h9.5v9.2h-9.5zM1284.5 787.5h9.5v9.2h-9.5zM1293.7 807.3h9.5v9.2h-9.5zM1302.9 827.2h9.5v9.2h-9.5zM1312.1 847.0h9.5v9.2h-9.5zM1327.7 861.9h9.5v9.2h-9.5zM1347.4 873.6h9.5v9.2h-9.5zM1367.0 885.3h9.5v9.2h-9.5zM1386.6 897.0h9.5v9.2h-9.5zM1406.3 908.7h9.5v9.2h-9.5zM1425.9 920.5h9.5v9.2h-9.5zM1445.5 932.2h9.5v9.2h-9.5zM1465.2 943.9h9.5v9.2h-9.5zM1484.8 955.6h9.5v9.2h-9.5zM1504.5 967.3h9.5v9.2h-9.5zM1522.6 980.7h9.5v9.2h-9.5zM1538.1 996.8h9.5v9.2h-9.5zM1553.6 1013.0h9.5v9.2h-9.5zM1569.2 1029.1h9.5v9.2h-9.5zM1584.7 1045.2h9.5v9.2h-9.5zM1600.2 1061.4h9.5v9.2h-9.5zM1615.7 1077.5h9.5v9.2h-9.5zM1631.3 1093.7h9.5v9.2h-9.5zM1646.8 1109.8h9.5v9.2h-9.5zM1662.3 1126.0h9.5v9.2h-9.5zM1677.8 1142.1h9.5v9.2h-9.5zM1693.4 1158.3h9.5v9.2h-9.5zM1708.9 1174.4h9.5v9.2h-9.5zM1724.4 1190.5h9.5v9.2h-9.5zM1739.9 1206.7h9.5v9.2h-9.5zM1755.5 1222.8h9.5v9.2h-9.5zM1771.0 1239.0h9.5v9.2h-9.5zM1786.5 1255.1h9.5v9.2h-9.5zM1802.0 1271.3h9.5v9.2h-9.5zM1817.6 1287.4h9.5v9.2h-9.5zM1833.1 1303.5h9.5v9.2h-9.5zM1848.6 1319.7h9.5v9.2h-9.5zM1864.2 1335.8h9.5v9.2h-9.5zM1879.7 1352.0h9.5v9.2h-9.5zM1895.2 1368.1h9.5v9.2h-9.5zM1910.7 1384.3h9.5v9.2h-9.5zM1928.9 1396.9h9.5v9.2h-9.5zM1950.6 1405.1h9.5v9.2h-9.5zM1972.2 1413.3h9.5v9.2h-9.5zM1993.8 1421.6h9.5v9.2h-9.5zM2015.4 1429.8h9.5v9.2h-9.5zM2037.1 1438.0h9.5v9.2h-9.5zM2058.7 1446.2h9.5v9.2h-9.5zM2080.3 1454.4h9.5v9.2h-9.5zM2101.9 1462.6h9.5v9.2h-9.5zM2123.6 1470.8h9.5v9.2h-9.5zM2145.2 1479.0h9.5v9.2h-9.5zM2166.8 1487.2h9.5v9.2h-9.5zM2188.4 1495.5h9.5v9.2h-9.5zM2210.1 1503.7h9.5v9.2h-9.5zM2231.7 1511.9h9.5v9.2h-9.5zM2253.3 1520.1h9.5v9.2h-9.5zM2274.9 1528.3h9.5v9.2h-9.5zM2296.6 1536.5h9.5v9.2h-9.5zM2318.2 1544.7h9.5v9.2h-9.5z" fill="#4f9a16"/>
<g><rect x="293.8" y="1576.0" width="40" height="40.5" fill="#7b2a8d" opacity="0.4"/><rect x="297.8" y="1580.0" width="32" height="32.5" fill="#7b2a8d"/><rect x="344.1" y="1576.0" width="40" height="40.5" fill="#7b2a8d" opacity="0.4"/><rect x="348.1" y="1580.0" width="32" height="32.5" fill="#7b2a8d"/><rect x="394.5" y="1576.0" width="40" height="40.5" fill="#7b2a8d" opacity="0.4"/><rect x="398.5" y="1580.0" width="32" height="32.5" fill="#7b2a8d"/><rect x="495.1" y="1525.1" width="40" height="40.5" fill="#7b2a8d" opacity="0.4"/><rect x="499.1" y="1529.1" width="32" height="32.5" fill="#7b2a8d"/><rect x="595.8" y="1359.5" width="40" height="40.5" fill="#7b2a8d" opacity="0.4"/><rect x="599.8" y="1363.5" width="32" height="32.5" fill="#7b2a8d"/><rect x="696.4" y="647.9" width="40" height="40.5" fill="#7b2a8d" opacity="0.4"/><rect x="700.4" y="651.9" width="32" height="32.5" fill="#7b2a8d"/><rect x="897.7" y="345.7" width="40" height="40.5" fill="#7b2a8d" opacity="0.4"/><rect x="901.7" y="349.7" width="32" height="32.5" fill="#7b2a8d"/><rect x="1099.0" y="404.0" width="40" height="40.5" fill="#7b2a8d" opacity="0.4"/><rect x="1103.0" y="408.0" width="32" height="32.5" fill="#7b2a8d"/><rect x="1300.3" y="838.9" width="40" height="40.5" fill="#7b2a8d" opacity="0.4"/><rect x="1304.3" y="842.9" width="32" height="32.5" fill="#7b2a8d"/><rect x="1501.6" y="959.1" width="40" height="40.5" fill="#7b2a8d" opacity="0.4"/><rect x="1505.6" y="963.1" width="32" height="32.5" fill="#7b2a8d"/><rect x="1904.2" y="1377.7" width="40" height="40.5" fill="#7b2a8d" opacity="0.4"/><rect x="1908.2" y="1381.7" width="32" height="32.5" fill="#7b2a8d"/><rect x="2306.8" y="1530.5" width="40" height="40.5" fill="#7b2a8d" opacity="0.4"/><rect x="2310.8" y="1534.5" width="32" height="32.5" fill="#7b2a8d"/></g>
<rect x="2010" y="273.5" width="390" height="165.0" fill="#fff"/>
<rect x="2016.5" y="280.0" width="377" height="152.0" fill="none" stroke="#dadada" stroke-width="4"/>
<rect x="2012.5" y="276.0" width="385" height="160.0" fill="none" stroke="#a5a5a5" stroke-width="5"/>
<path d="M2024.5 312.0h15.5v15.0h-15.5zM2047.1 312.0h15.5v15.0h-15.5zM2069.6 312.0h15.5v15.0h-15.5zM2092.1 312.0h15.5v15.0h-15.5zM2114.6 312.0h15.5v15.0h-15.5z" fill="#0a62b3" opacity="0.33"/><path d="M2027.5 314.9h9.5v9.2h-9.5zM2050.1 314.9h9.5v9.2h-9.5zM2072.6 314.9h9.5v9.2h-9.5zM2095.1 314.9h9.5v9.2h-9.5zM2117.6 314.9h9.5v9.2h-9.5z" fill="#0a62b3"/>
<rect x="2140" y="315" width="5" height="9" fill="#0a62b3" opacity="0.35"/>
<path d="M2085.0,291.3 L2105.5,319.3 L2085.0,347.3 L2064.5,319.3 Z" fill="#ff0000" opacity="0.35"/><path d="M2085.0,294.3 L2102.5,319.3 L2085.0,344.3 L2067.5,319.3 Z" fill="#ff0000"/>
<path d="M2024.5 387.0h15.5v15.0h-15.5zM2047.1 387.0h15.5v15.0h-15.5zM2069.6 387.0h15.5v15.0h-15.5zM2092.1 387.0h15.5v15.0h-15.5zM2114.6 387.0h15.5v15.0h-15.5z" fill="#4f9a16" opacity="0.33"/><path d="M2027.5 389.9h9.5v9.2h-9.5zM2050.1 389.9h9.5v9.2h-9.5zM2072.6 389.9h9.5v9.2h-9.5zM2095.1 389.9h9.5v9.2h-9.5zM2117.6 389.9h9.5v9.2h-9.5z" fill="#4f9a16"/>
<rect x="2140" y="390" width="5" height="9" fill="#4f9a16" opacity="0.35"/>
<rect x="2065.0" y="374.5" width="40.0" height="41.0" fill="#7b2a8d" opacity="0.4"/><rect x="2069.5" y="379.0" width="31" height="32" fill="#7b2a8d"/>
<text x="2150" y="344.5" style="font-family:'Liberation Sans',Arial,Helvetica,sans-serif;font-weight:bold;font-size:63px" fill="#222222">IND</text>
<text x="2150" y="418" style="font-family:'Liberation Sans',Arial,Helvetica,sans-serif;font-weight:bold;font-size:63px" fill="#222222" textLength="238" lengthAdjust="spacingAndGlyphs">IND-ves</text>
</svg>
</body></html>
